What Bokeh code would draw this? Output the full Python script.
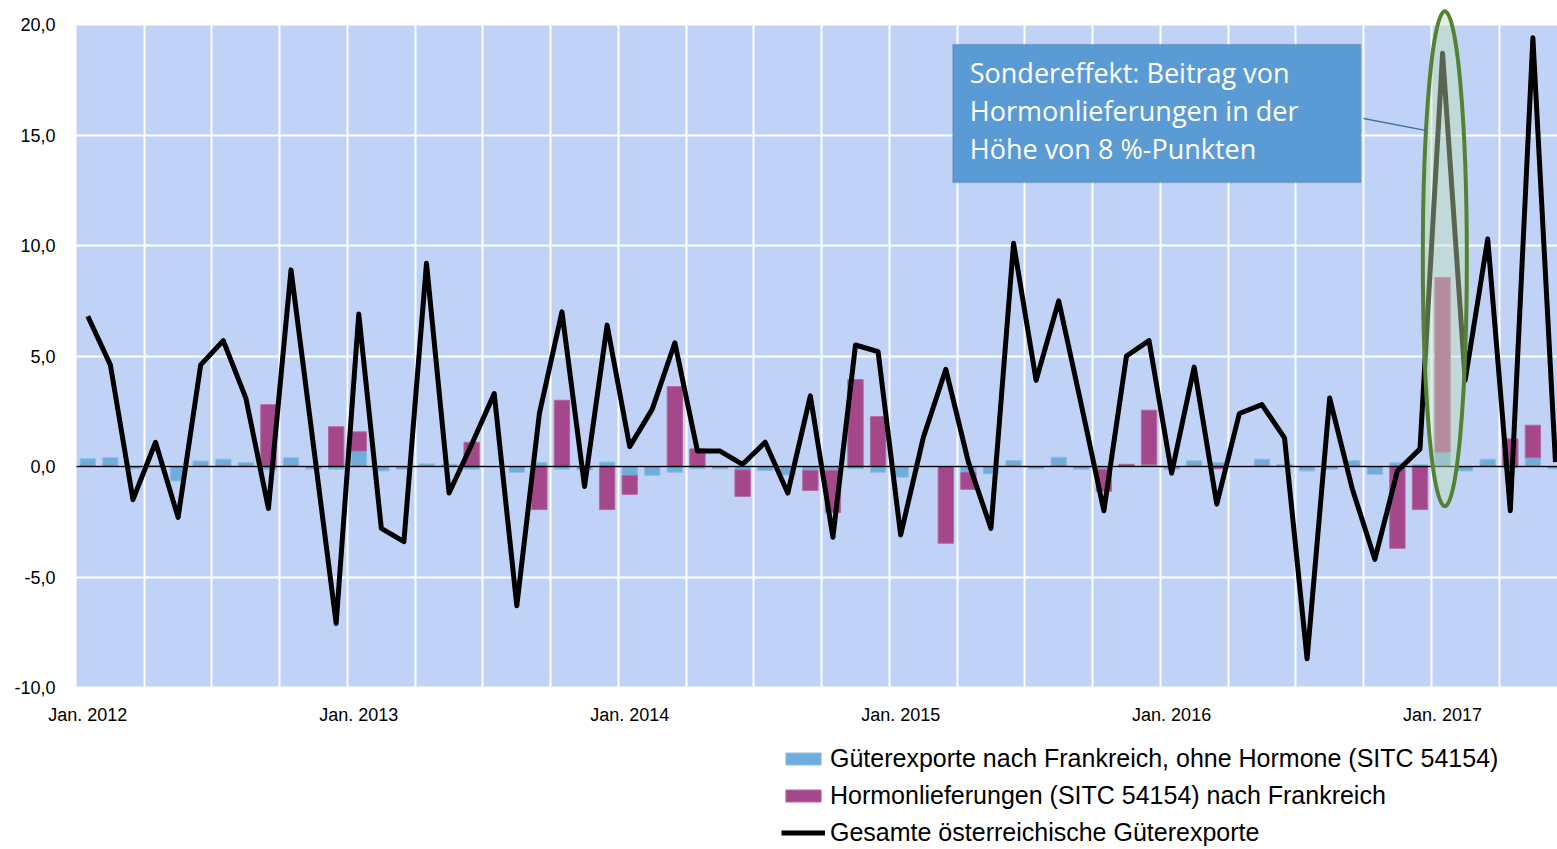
import numpy as np
from bokeh.plotting import figure
from bokeh.models import (Range1d, FixedTicker, Legend, LegendItem,
                          BoxAnnotation, Label, ColumnDataSource)
from bokeh.embed import file_html
from bokeh.resources import INLINE

# ---------------- data ----------------
month_abbr = ["Jan.", "Feb.", "Mär.", "Apr.", "Mai", "Jun.", "Jul.", "Aug.", "Sep.", "Okt.", "Nov.", "Dez."]
months = [f"{m} {y}" for y in range(2012, 2018) for m in month_abbr][:66]

# Gesamte österreichische Güterexporte (Veränderung in %)
total = [6.8, 4.6, -1.5, 1.1, -2.3, 4.6, 5.7, 3.1, -1.9, 8.9,
         0.9, -7.1, 6.9, -2.8, -3.4, 9.2, -1.2, 1.0, 3.3, -6.3,
         2.4, 7.0, -0.9, 6.4, 0.9, 2.6, 5.6, 0.7, 0.7, 0.1,
         1.1, -1.2, 3.2, -3.2, 5.5, 5.2, -3.1, 1.3, 4.4, 0.2,
         -2.8, 10.1, 3.9, 7.5, 2.8, -2.0, 5.0, 5.7, -0.3, 4.5,
         -1.7, 2.4, 2.8, 1.3, -8.7, 3.1, -1.0, -4.2, -0.2, 0.8,
         18.7, 3.9, 10.3, -2.0, 19.4, 0.2]

# Güterexporte nach Frankreich, ohne Hormone (Beitrag in %-Punkten)
france_ex = [0.35, 0.4, -0.1, 0.05, -0.65, 0.25, 0.33, 0.18, -0.15, 0.4,
             -0.12, -0.12, 0.7, -0.2, -0.12, 0.12, 0.1, -0.12, 0.0, -0.27,
             0.18, -0.12, -0.15, 0.2, -0.4, -0.4, -0.26, -0.1, -0.1, -0.15,
             -0.18, -0.38, -0.18, -0.18, -0.1, -0.26, -0.48, 0.0, 0.0, -0.26,
             -0.33, 0.27, -0.1, 0.42, -0.12, -0.12, 0.0, 0.1, -0.12, 0.26,
             0.18, 0.0, 0.33, 0.1, -0.2, -0.12, 0.26, -0.35, 0.17, 0.08,
             0.65, -0.2, 0.33, -0.05, 0.4, -0.1]

# Hormonlieferungen (SITC 54154) nach Frankreich (Beitrag in %-Punkten)
hormones = [0, 0, 0, 0, 0, 0, 0, 0, 2.8, 0,
            0, 1.8, 0.87, 0, 0, 0, 0, 1.1, 0, 0,
            -1.95, 3.0, 0, -1.95, -0.86, 0, 3.62, 0.8, 0, -1.2,
            0, 0, -0.9, -1.9, 3.94, 2.26, 0, 0, -3.47, -0.77,
            0, 0, 0, 0, 0, -1.0, 0.1, 2.45, 0, 0,
            -0.1, 0, 0, 0, 0, 0, 0, 0, -3.7, -1.95,
            7.9, 0, 0, 1.25, 1.47, 0]

y_ticks = [-10, -5, 0, 5, 10, 15, 20]
y_tick_labels = ["-10,0", "-5,0", "0,0", "5,0", "10,0", "15,0", "20,0"]
x_tick_labels = ["Jan. 2012", "Jan. 2013", "Jan. 2014", "Jan. 2015", "Jan. 2016", "Jan. 2017"]

series_names = ["Güterexporte nach Frankreich, ohne Hormone (SITC 54154)",
                "Hormonlieferungen (SITC 54154) nach Frankreich",
                "Gesamte österreichische Güterexporte"]

callout_lines = ["Sondereffekt: Beitrag von",
                 "Hormonlieferungen in der",
                 "Höhe von 8 %-Punkten"]

# ---------------- derived ----------------
x = np.arange(len(months))
b = np.array(france_ex, dtype=float)
m = np.array(hormones, dtype=float)
m_bottom = np.where(np.sign(m) == np.sign(b), b, 0.0)
m_top = m_bottom + m

src = ColumnDataSource(dict(x=x, b=b, zero=np.zeros_like(b), mb=m_bottom, mt=m_top,
                            total=np.array(total), month=months))

x_lo, x_hi = -0.5, 65.09          # edges of the coloured plot area
xt = [months.index(l) for l in x_tick_labels]
xtick_src = ColumnDataSource(dict(x=xt, y=[y_ticks[0]] * len(xt), text=x_tick_labels))
ytick_src = ColumnDataSource(dict(x=[x_lo] * len(y_ticks), y=y_ticks, text=y_tick_labels))

FONT = "Liberation Sans"

p = figure(width=1557, height=849,
           x_range=Range1d(-3.866, x_hi), y_range=Range1d(-17.33, 21.09),
           output_backend="svg", toolbar_location=None,
           min_border_left=0, min_border_right=0, min_border_top=0, min_border_bottom=0)

p.background_fill_color = "white"
p.border_fill_color = "white"
p.outline_line_color = None
p.xaxis.visible = False
p.yaxis.visible = False

# coloured plot area
p.add_layout(BoxAnnotation(left=x_lo, right=x_hi, bottom=y_ticks[0], top=y_ticks[-1],
                           fill_color="#C0D3F7", fill_alpha=1.0, line_color=None, level="image"))

# grids (white, invisible outside the coloured area)
p.ygrid.ticker = FixedTicker(ticks=y_ticks)
p.ygrid.grid_line_color = "white"
p.ygrid.grid_line_width = 2
p.xgrid.ticker = FixedTicker(ticks=list(np.arange(2.5, len(months), 3)))
p.xgrid.grid_line_color = "white"
p.xgrid.grid_line_width = 2

# axis labels
p.text(x="x", y="y", text="text", source=ytick_src, text_align="right",
       text_baseline="middle", x_offset=-21, text_font_size="18px",
       text_color="black", text_font={"value": FONT})
p.text(x="x", y="y", text="text", source=xtick_src, text_align="center",
       text_baseline="top", y_offset=17, text_font_size="18px",
       text_color="black", text_font={"value": FONT})

# bars
r_b = p.vbar(x="x", bottom="zero", top="b", width=0.68, source=src,
             fill_color="#70ADDC", line_color="#8BBDE6", line_width=1)
r_m = p.vbar(x="x", bottom="mb", top="mt", width=0.68, source=src,
             fill_color="#A5488B", line_color="#B566A0", line_width=1)

# zero line
p.segment(x0=[x_lo], y0=[0], x1=[x_hi], y1=[0], line_color="black", line_width=1.6)

r_l = p.line(x="x", y="total", source=src, line_color="black", line_width=5,
             line_join="round")

# highlight ellipse around the hormone spike
peak = months.index("Jan. 2017")
p.ellipse(x=[peak + 0.1], y=[9.4], width=[1.95], height=[22.4],
          fill_color="#C5E0B4", fill_alpha=0.45, line_color="#548235", line_width=4)

# callout connector and box
p.segment(x0=[56.5], y0=[15.75], x1=[59.3], y1=[15.2], line_color="#41719C", line_width=1.3)
p.add_layout(BoxAnnotation(left=38.31, right=56.38, top=19.10, bottom=12.85,
                           fill_color="#5B9BD5", fill_alpha=1.0,
                           line_color="#41719C", line_width=1.5))
for i, t in enumerate(callout_lines):
    p.add_layout(Label(x=39.06, y=17.82 - i * 1.72, text=t, text_color="white",
                       text_font="Open Sans", text_font_size="27px",
                       text_baseline="middle", text_align="left"))

# legend below the plot area
legend = Legend(items=[LegendItem(label=series_names[0], renderers=[r_b]),
                       LegendItem(label=series_names[1], renderers=[r_m]),
                       LegendItem(label=series_names[2], renderers=[r_l])],
                location=(781, 2), orientation="vertical",
                glyph_width=44, glyph_height=15, label_standoff=5,
                label_height=27, label_text_font=FONT, label_text_font_size="25px",
                label_text_color="black", spacing=8, padding=0, margin=0,
                border_line_color=None, background_fill_alpha=0)
p.add_layout(legend, "center")

open("out.html", "w").write(file_html(p, INLINE))
